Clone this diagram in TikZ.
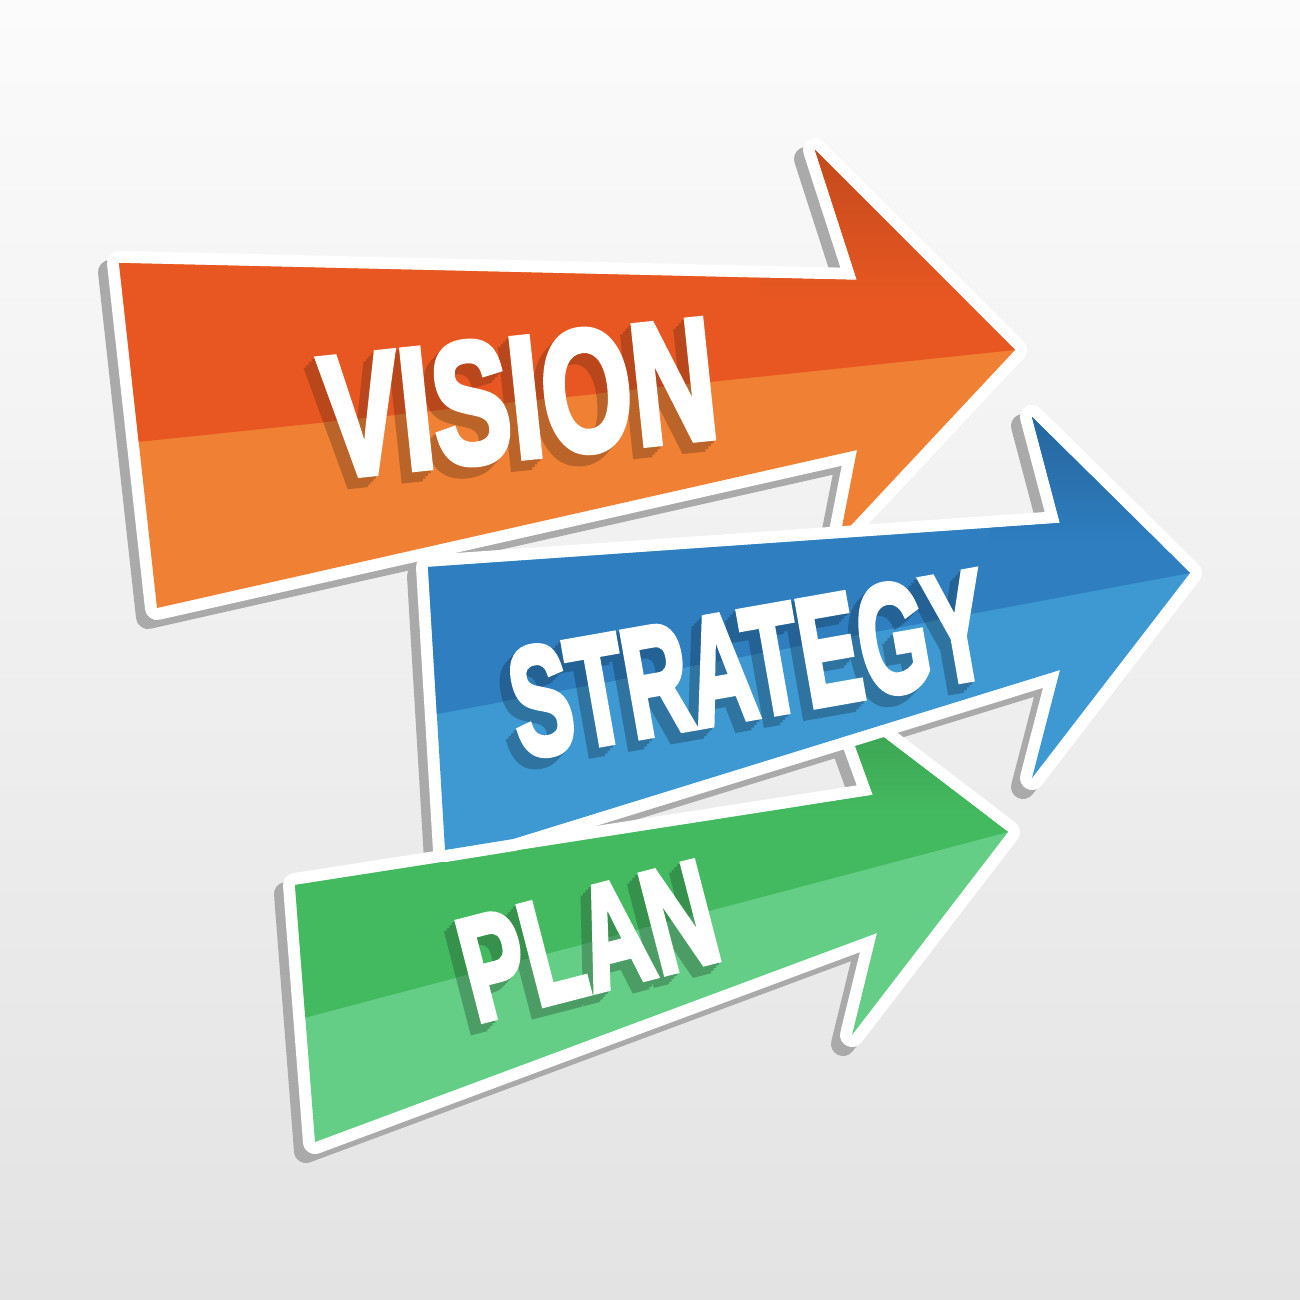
\documentclass[tikz,border=0pt]{standalone}
\usepackage{fontspec}
\newfontfamily\arrowfont{Liberation Sans}[FakeBold=4]
\definecolor{oT}{RGB}{232,87,34}
\definecolor{oB}{RGB}{240,128,52}
\definecolor{oD}{RGB}{196,74,28}
\definecolor{bT}{RGB}{46,126,192}
\definecolor{bB}{RGB}{62,153,210}
\definecolor{bD}{RGB}{38,102,158}
\definecolor{gT}{RGB}{68,186,96}
\definecolor{gB}{RGB}{100,205,134}
\definecolor{gD}{RGB}{58,158,80}
\colorlet{oTs}{oT!80!black}
\colorlet{oBs}{oB!78!black}
\colorlet{bTs}{bT!78!black}
\colorlet{bBs}{bB!76!black}
\colorlet{gTs}{gT!78!black}
\colorlet{gBs}{gB!76!black}
\definecolor{shadowgrey}{RGB}{170,170,170}
\definecolor{bgtop}{RGB}{251,251,251}
\definecolor{bgbot}{RGB}{227,227,228}

\def\opath{(119,263) -- (857,280) -- (815,150) -- (1015,350) -- (840,537) -- (857,450) -- (157,608) -- cycle}
\def\otop{(90,447) -- (1015,350) -- (1030,100) -- (90,100) -- cycle}
\def\obot{(90,447) -- (1015,350) -- (1030,700) -- (90,700) -- cycle}
\def\bpath{(428,567) -- (1060,523) -- (1032,417) -- (1190,573) -- (1032,778) -- (1060,670) -- (513,839) -- (445,850) -- cycle}
\def\btop{(400,721) -- (1190,573) -- (1210,380) -- (400,380) -- cycle}
\def\bbot{(400,721) -- (1190,573) -- (1210,900) -- (400,900) -- cycle}
\def\gpath{(295,885) -- (873,795) -- (840,704) -- (1008,832) -- (852,1035) -- (877,933) -- (315,1142) -- cycle}
\def\gtop{(270,1027) -- (1008,832) -- (1030,680) -- (270,680) -- cycle}
\def\gbot{(270,1027) -- (1008,832) -- (1030,1200) -- (270,1200) -- cycle}

% extruded lettering shadow: #1 name prefix, #2 text, #3 x, #4 y, #5 style, #6 colour
\newcommand{\extrude}[6]{%
  \foreach \k in {1,2,3,4}{\node[#5, text=#6] (#1\k) at ({#3-2.6*\k},{#4+2.8*\k}) {#2};}}

% arrow body: #1 path, #2 top band, #3 (unused), #4 top colour, #5 bottom colour,
% #6 dark colour, #7 shading box
\newcommand{\arrowbody}[7]{%
  \draw[rim] #1;
  \fill[#5] #1;
  \begin{scope}
    \clip #1; \clip #2;
    \fill[#4] (0,0) rectangle (1300,1300);
    \shade[top color=#6, bottom color=#4] #7;
  \end{scope}
}

\begin{document}
\begin{tikzpicture}[x=0.01cm,y=-0.01cm,
  edge/.style={line width=0.24cm, line join=round},
  drop/.style={edge, draw=shadowgrey, fill=shadowgrey, shift={(-9,9)}},
  rim/.style={edge, draw=white, fill=white},
  word/.style={inner sep=0pt, font=\arrowfont\bfseries\fontsize{#1}{#1}\selectfont},
  vis/.style={word=49pt, rotate=6, xscale=0.675},
  str/.style={word=44pt, rotate=10, xscale=0.58},
  pla/.style={word=42pt, rotate=14.5, xscale=0.64}]

\useasboundingbox (0,0) rectangle (1300,1300);
\shade[top color=bgtop, bottom color=bgbot] (0,0) rectangle (1300,1300);

% ---------- orange arrow ----------
\draw[drop] \opath;
\arrowbody{\opath}{\otop}{\obot}{oT}{oB}{oD}{(760,150) rectangle (1030,300)}
\begin{scope}
  \clip \opath; \clip \otop;
  \extrude{vt}{VISION}{519}{398}{vis}{oTs}
\end{scope}
\begin{scope}
  \clip \opath; \clip \obot;
  \extrude{vb}{VISION}{519}{398}{vis}{oBs}
\end{scope}
\node[vis, text=white] (vision) at (519,398) {VISION};

% ---------- blue arrow: its shadow ----------
\draw[drop] \bpath;

% ---------- green arrow ----------
\draw[drop] \gpath;
\arrowbody{\gpath}{\gtop}{\gbot}{gT}{gB}{gD}{(800,704) rectangle (1030,815)}
\begin{scope}
  \clip \gpath; \clip \gtop;
  \extrude{pt}{PLAN}{588}{941}{pla}{gTs}
\end{scope}
\begin{scope}
  \clip \gpath; \clip \gbot;
  \extrude{pb}{PLAN}{588}{941}{pla}{gBs}
\end{scope}
\node[pla, text=white] (plan) at (588,941) {PLAN};

% ---------- blue arrow: body over the green barb ----------
\arrowbody{\bpath}{\btop}{\bbot}{bT}{bB}{bD}{(990,417) rectangle (1210,545)}
\begin{scope}
  \clip \bpath; \clip \btop;
  \extrude{st}{STRATEGY}{749}{664}{str}{bTs}
\end{scope}
\begin{scope}
  \clip \bpath; \clip \bbot;
  \extrude{sb}{STRATEGY}{749}{664}{str}{bBs}
\end{scope}
\node[str, text=white] (strategy) at (749,664) {STRATEGY};

\end{tikzpicture}
\end{document}
